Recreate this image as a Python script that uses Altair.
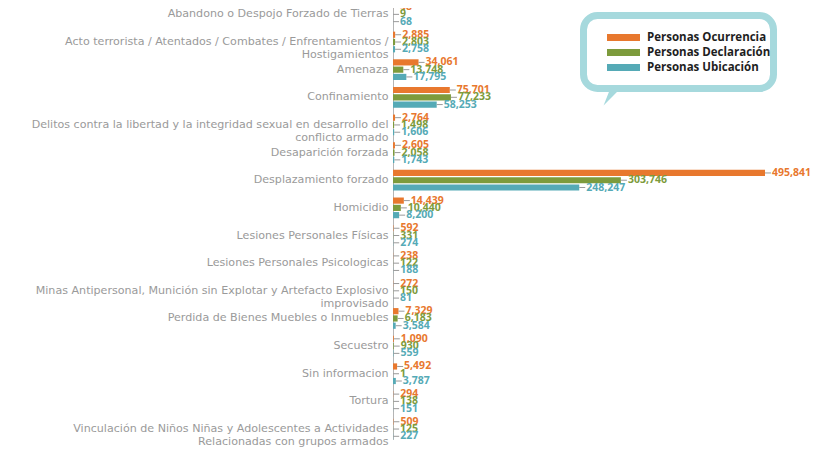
import altair as alt
import pandas as pd

categories = [
    "Abandono o Despojo Forzado de Tierras",
    "Acto terrorista / Atentados / Combates / Enfrentamientos /|Hostigamientos",
    "Amenaza",
    "Confinamiento",
    "Delitos contra la libertad y la integridad sexual en desarrollo del|conflicto armado",
    "Desaparición forzada",
    "Desplazamiento forzado",
    "Homicidio",
    "Lesiones Personales Físicas",
    "Lesiones Personales Psicologicas",
    "Minas Antipersonal, Munición sin Explotar y Artefacto Explosivo|improvisado",
    "Perdida de Bienes Muebles o Inmuebles",
    "Secuestro",
    "Sin informacion",
    "Tortura",
    "Vinculación de Niños Niñas y Adolescentes a Actividades|Relacionadas con grupos armados",
]
ocurrencia = [48, 2885, 34061, 75701, 2764, 2605, 495841, 14439, 592, 238, 272, 7329, 1090, 5492, 294, 509]
declaracion = [9, 2803, 13748, 77233, 1498, 2058, 303746, 10440, 331, 122, 150, 6183, 930, 1, 138, 125]
ubicacion = [68, 2758, 17795, 58253, 1606, 1743, 248247, 8200, 274, 188, 81, 3584, 559, 3787, 151, 227]

series = ["Personas Ocurrencia", "Personas Declaración", "Personas Ubicación"]
colors = ["#E8782E", "#7D9B3C", "#55AAB6"]

rows = []
for i, c in enumerate(categories):
    for s, vals in zip(series, [ocurrencia, declaracion, ubicacion]):
        rows.append({"cat": c, "serie": s, "v": vals[i]})
df = pd.DataFrame(rows)

FONT = "DejaVu Sans"
VFONT = "Open Sans"

y_enc = alt.Y(
    "cat:N",
    sort=categories,
    scale=alt.Scale(range=[-4.0, 431.4], paddingInner=0.25, paddingOuter=0),
    axis=alt.Axis(
        title=None,
        labelExpr="split(datum.label, '|')",
        labelFont=FONT,
        labelFontSize=11.1,
        labelColor="#9a9a9a",
        labelLineHeight=13,
        labelPadding=5,
        labelLimit=0,
        ticks=False,
        domain=True,
        domainColor="#b5b5b5",
        grid=False,
    ),
)
yoff = alt.YOffset("serie:N", sort=series, scale=alt.Scale(paddingInner=0.15))
x_enc = alt.X("v:Q", scale=alt.Scale(domain=[0, 495841], nice=False, zero=True), axis=None)
col = alt.Color("serie:N", sort=series, scale=alt.Scale(domain=series, range=colors), legend=None)

base = alt.Chart(df)

bars = base.mark_bar().encode(y=y_enc, yOffset=yoff, x=x_enc, color=col)

leaders = base.mark_rule(x2Offset=6, color="#9a9a9a", strokeWidth=1).encode(
    y=y_enc, yOffset=yoff, x=x_enc, x2="v:Q"
)

labels = base.mark_text(
    align="left", baseline="middle", dx=7, font=VFONT, fontSize=10.5, fontWeight="bold"
).encode(y=y_enc, yOffset=yoff, x=x_enc, color=col, text=alt.Text("v:Q", format=",d"))

# legend bubble
bubble = alt.Chart(pd.DataFrame({"a": [0]})).mark_rect(
    fill="white", stroke="#A6D9DD", strokeWidth=7, cornerRadius=14
).encode(x=alt.value(190.5), x2=alt.value(380.5), y=alt.value(7.5), y2=alt.value(80.5))

tail = alt.Chart(pd.DataFrame({"a": [0]})).mark_point(
    shape="M-0.2,-1 L1,-1 L-1,1 Z", filled=True, color="#A6D9DD", opacity=1, size=220
).encode(x=alt.value(218), y=alt.value(90))

leg_layers = []
for i, (s, c) in enumerate(zip(series, colors)):
    ld = pd.DataFrame({"serie": [s]})
    leg_layers.append(
        alt.Chart(ld).mark_rect(color=c).encode(
            x=alt.value(214), x2=alt.value(247), y=alt.value(26 + 15 * i), y2=alt.value(33 + 15 * i)
        )
    )
    leg_layers.append(
        alt.Chart(ld).mark_text(
            align="left", baseline="middle", font=VFONT, fontSize=11.5, fontWeight="bold", color="#1e1e1e"
        ).encode(x=alt.value(254), y=alt.value(29.5 + 15 * i), text="serie:N")
    )

chart = (
    alt.layer(bars, leaders, labels, bubble, tail, *leg_layers)
    .properties(
        width=372,
        height=440,
        autosize=alt.AutoSizeParams(type="none"),
        padding={"left": 385, "top": 0, "right": 52, "bottom": 4},
        background="white",
    )
    .configure_view(strokeWidth=0)
)

chart.save("out.html", embed_options={"renderer": "svg", "actions": False})
